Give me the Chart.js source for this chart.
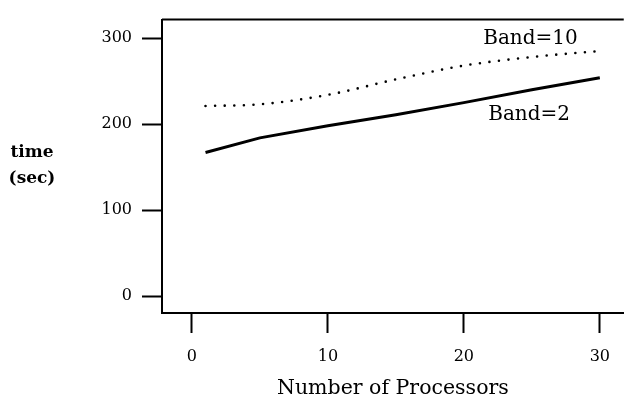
<!DOCTYPE html>
<html>
<head>
<meta charset="utf-8">
<script src="https://cdn.jsdelivr.net/npm/chart.js@4"></script>
<style>
  html, body { margin: 0; padding: 0; background: #fff; }
  #wrap { width: 624px; height: 406px; position: relative; }
</style>
</head>
<body>
<div id="wrap"><canvas id="chart" width="624" height="406"></canvas></div>
<script>
// values
var processors = [1, 5, 10, 15, 20, 25, 30];
var band2 = [167, 184, 198, 211, 225, 240, 254];
var band10 = [221, 223, 234, 252, 268, 278, 285];
var xTicks = [0, 10, 20, 30];
var yTicks = [0, 100, 200, 300];

var serif = "'DejaVu Serif', 'Liberation Serif', serif";

function toPoints(xs, ys) {
    var pts = [];
    for (var i = 0; i < xs.length; i++) pts.push({ x: xs[i], y: ys[i] });
    return pts;
}

// frame top line, y axis caption and the two curve labels
var extras = {
    id: 'extras',
    afterDraw: function(chart) {
        var ctx = chart.ctx;
        var a = chart.chartArea;
        var xs = chart.scales.x, ys = chart.scales.y;
        ctx.save();
        ctx.strokeStyle = '#000';
        ctx.lineWidth = 2;
        ctx.beginPath();
        ctx.moveTo(a.left, a.top);
        ctx.lineTo(a.right, a.top);
        ctx.stroke();

        ctx.fillStyle = '#000';
        ctx.textAlign = 'center';
        ctx.textBaseline = 'middle';
        ctx.font = 'bold 17px ' + serif;
        ctx.fillText('time', 32, 153);
        ctx.fillText('(sec)', 32, 179);

        ctx.font = '20px ' + serif;
        ctx.fillText('Band=10', xs.getPixelForValue(24.9), ys.getPixelForValue(299));
        ctx.fillText('Band=2', xs.getPixelForValue(24.8), ys.getPixelForValue(211));
        ctx.restore();
    }
};

new Chart(document.getElementById('chart'), {
    type: 'line',
    data: {
        datasets: [{
            label: 'Band=2',
            data: toPoints(processors, band2),
            borderColor: '#000',
            borderWidth: 3,
            pointRadius: 0,
            tension: 0
        }, {
            label: 'Band=10',
            data: toPoints(processors, band10),
            borderColor: '#000',
            borderWidth: 2.6,
            borderDash: [0, 9.6],
            borderCapStyle: 'round',
            pointRadius: 0,
            cubicInterpolationMode: 'monotone'
        }]
    },
    options: {
        responsive: false,
        animation: false,
        layout: { padding: { top: 9, right: 0, left: 0, bottom: 0 } },
        plugins: {
            legend: { display: false },
            tooltip: { enabled: false }
        },
        scales: {
            x: {
                type: 'linear',
                min: -2.2,
                max: 31.76,
                afterBuildTicks: function(scale) {
                    scale.ticks = xTicks.map(function(v) { return { value: v }; });
                },
                afterFit: function(scale) { scale.height = 93; },
                border: { display: true, color: '#000', width: 2 },
                grid: { drawOnChartArea: false, drawTicks: true, tickLength: 20, tickWidth: 2, tickColor: '#000' },
                ticks: { color: '#000', padding: 14, maxRotation: 0, font: { family: serif, size: 16 } },
                title: { display: true, text: 'Number of Processors', color: '#000', padding: { top: 6, bottom: 5 }, font: { family: serif, size: 20.5 } }
            },
            y: {
                type: 'linear',
                min: -19.6,
                max: 321.5,
                afterBuildTicks: function(scale) {
                    scale.ticks = yTicks.map(function(v) { return { value: v }; });
                },
                afterFit: function(scale) { scale.width = 162; },
                border: { display: true, color: '#000', width: 2 },
                grid: { drawOnChartArea: false, drawTicks: true, tickLength: 20, tickWidth: 2, tickColor: '#000' },
                ticks: { color: '#000', padding: 10, font: { family: serif, size: 16 } }
            }
        }
    },
    plugins: [extras]
});
</script>
</body>
</html>
